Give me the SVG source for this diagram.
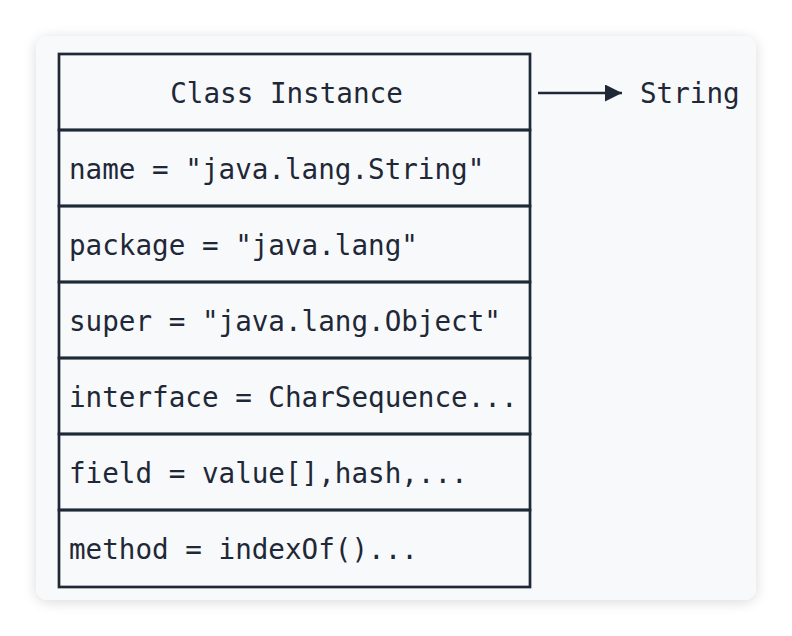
<svg xmlns="http://www.w3.org/2000/svg" width="792" height="636" viewBox="0 0 792 636">
<defs>
<filter id="sh" x="-10%" y="-10%" width="120%" height="120%">
<feGaussianBlur in="SourceAlpha" stdDeviation="7"/>
<feOffset dy="2"/>
<feComponentTransfer><feFuncA type="linear" slope="0.15"/></feComponentTransfer>
<feMerge><feMergeNode/><feMergeNode in="SourceGraphic"/></feMerge>
</filter>
<marker id="ah" markerWidth="17" markerHeight="17" refX="17" refY="8.5" orient="auto" markerUnits="userSpaceOnUse" viewBox="0 0 17 17">
<path d="M0,0 L17,8.5 L0,17 z" fill="#1e2836"/>
</marker>
</defs>
<style>
.t{font-family:"DejaVu Sans Mono","Liberation Mono",monospace;font-size:27.6px;fill:#1e2836;dominant-baseline:central}
.cell{fill:none;stroke:#1e2836;stroke-width:2.7}
</style>
<rect x="0" y="0" width="792" height="636" fill="#ffffff"/>
<rect x="36" y="36" width="720" height="564" rx="12" fill="#f8f9fb" filter="url(#sh)"/>
<g id="class-instance">
<rect class="cell" x="59" y="54" width="471" height="76"/>
<text class="t" x="286.5" y="93" text-anchor="middle">Class Instance</text>
</g>
<g id="row-name">
<rect class="cell" x="59" y="130" width="471" height="76"/>
<text class="t" x="69" y="169">name = "java.lang.String"</text>
</g>
<g id="row-package">
<rect class="cell" x="59" y="206" width="471" height="76"/>
<text class="t" x="69" y="245">package = "java.lang"</text>
</g>
<g id="row-super">
<rect class="cell" x="59" y="282" width="471" height="76"/>
<text class="t" x="69" y="321">super = "java.lang.Object"</text>
</g>
<g id="row-interface">
<rect class="cell" x="59" y="358" width="471" height="76"/>
<text class="t" x="69" y="397">interface = CharSequence...</text>
</g>
<g id="row-field">
<rect class="cell" x="59" y="434" width="471" height="76"/>
<text class="t" x="69" y="473">field = value[],hash,...</text>
</g>
<g id="row-method">
<rect class="cell" x="59" y="510" width="471" height="77"/>
<text class="t" x="69" y="549">method = indexOf()...</text>
</g>
<g id="string">
<text class="t" x="640" y="93">String</text>
</g>
<g id="connectors">
<line x1="538" y1="93" x2="622" y2="93" stroke="#1e2836" stroke-width="2.7" marker-end="url(#ah)"/>
</g>
</svg>
